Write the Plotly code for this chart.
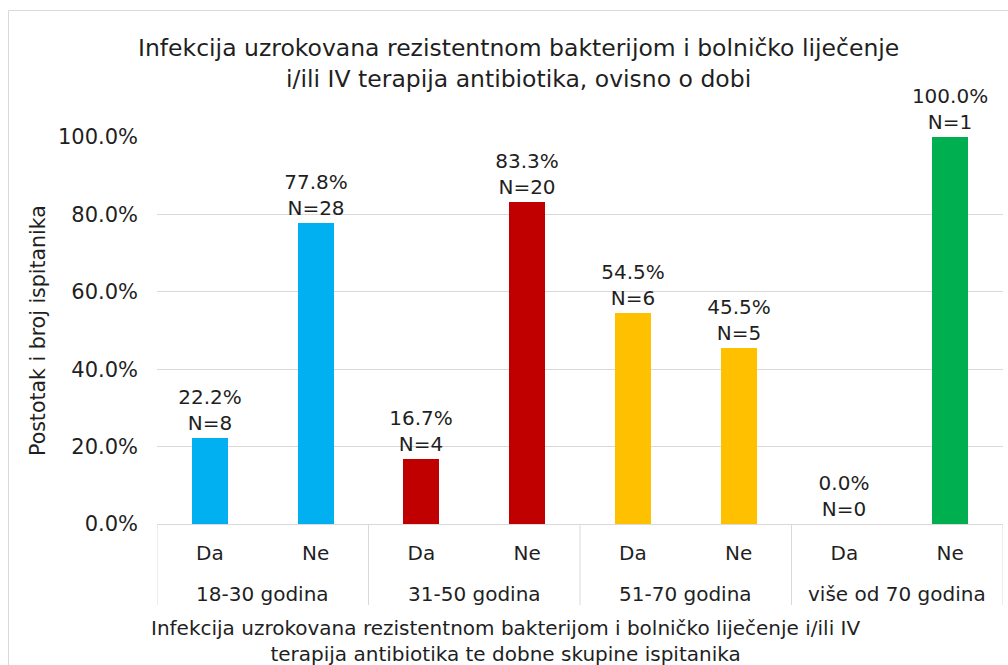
import plotly.graph_objects as go

# Age groups and answers (Da / Ne) per group
group_names = ["18-30 godina", "31-50 godina", "51-70 godina", "više od 70 godina"]
bar_keys = ["18-30 Da", "18-30 Ne", "31-50 Da", "31-50 Ne",
            "51-70 Da", "51-70 Ne", "70+ Da", "70+ Ne"]
answers = ["Da", "Ne", "Da", "Ne", "Da", "Ne", "Da", "Ne"]
percent = [22.2, 77.8, 16.7, 83.3, 54.5, 45.5, 0.0, 100.0]
counts = [8, 28, 4, 20, 6, 5, 0, 1]
colors = ["#00B0F0", "#00B0F0", "#C00000", "#C00000",
          "#FFC000", "#FFC000", "#00B050", "#00B050"]
y_ticks = [0, 20, 40, 60, 80, 100]

FONT = "DejaVu Sans"
TXT = "#1f1f1f"
GRID = "#D9D9D9"

labels = [f"{p:.1f}%<br>N={n}" for p, n in zip(percent, counts)]

fig = go.Figure(go.Bar(
    x=bar_keys,
    y=percent,
    marker=dict(color=colors, line=dict(width=0)),
    width=0.34,
    text=labels,
    textposition="outside",
    constraintext="none",
    textfont=dict(family=FONT, size=20, color=TXT),
    cliponaxis=False,
    hoverinfo="skip",
))

W, H = 1008, 665
L, R, T, B = 157, 5, 137, 141

fig.update_layout(
    width=W, height=H,
    margin=dict(l=L, r=R, t=T, b=B),
    paper_bgcolor="white",
    plot_bgcolor="white",
    showlegend=False,
    font=dict(family=FONT, color=TXT),
    bargap=0,
)

fig.update_yaxes(
    range=[0, 100],
    tickvals=y_ticks,
    ticktext=[f"{v:.1f}%" for v in y_ticks],
    tickfont=dict(size=21, color=TXT),
    ticklabelstandoff=18,
    showgrid=True, gridcolor=GRID, gridwidth=1,
    zeroline=True, zerolinecolor=GRID, zerolinewidth=1,
    showline=False, ticks="",
)

fig.update_xaxes(
    type="category",
    range=[-0.5, len(bar_keys) - 0.5],
    tickvals=bar_keys,
    ticktext=answers,
    tickfont=dict(size=20, color=TXT),
    ticks="outside", ticklen=11, tickcolor="rgba(0,0,0,0)",
    showgrid=False,
    showline=False,
)

plot_w = W - L - R
plot_h = H - T - B


def px_x(x):
    return (x - L) / plot_w


def px_y(y):
    return (H - B - y) / plot_h


# Group dividers below the category axis
for i in range(len(group_names) + 1):
    fig.add_shape(type="line", xref="x", yref="paper",
                  x0=2 * i - 0.5, x1=2 * i - 0.5, y0=0, y1=px_y(605),
                  line=dict(color=GRID, width=1))

# Group labels
for i, name in enumerate(group_names):
    fig.add_annotation(text=name, xref="x", yref="paper",
                       x=2 * i + 0.5, y=px_y(594),
                       xanchor="center", yanchor="middle", showarrow=False,
                       font=dict(family=FONT, size=20, color=TXT))

# Chart frame
fig.add_shape(type="rect", xref="paper", yref="paper",
              x0=px_x(8.5), x1=px_x(1020), y0=px_y(690), y1=px_y(10.5),
              line=dict(color=GRID, width=1), fillcolor="rgba(0,0,0,0)",
              layer="below")

# Chart title
fig.add_annotation(
    text="Infekcija uzrokovana rezistentnom bakterijom i bolničko liječenje<br>"
         "i/ili IV terapija antibiotika, ovisno o dobi",
    xref="paper", yref="paper", x=px_x(518), y=px_y(32),
    xanchor="center", yanchor="top", showarrow=False, align="center",
    font=dict(family=FONT, size=23.5, color=TXT),
)

# Axis titles
fig.add_annotation(
    text="Infekcija uzrokovana rezistentnom bakterijom i bolničko liječenje i/ili IV<br>"
         "terapija antibiotika te dobne skupine ispitanika",
    xref="paper", yref="paper", x=px_x(505), y=px_y(614),
    xanchor="center", yanchor="top", showarrow=False, align="center",
    font=dict(family=FONT, size=20, color=TXT),
)
fig.add_annotation(
    text="Postotak i broj ispitanika",
    xref="paper", yref="paper", x=px_x(38), y=px_y(330),
    xanchor="center", yanchor="middle", showarrow=False, textangle=-90,
    font=dict(family=FONT, size=20.5, color=TXT),
)

fig.write_html("out.html")
